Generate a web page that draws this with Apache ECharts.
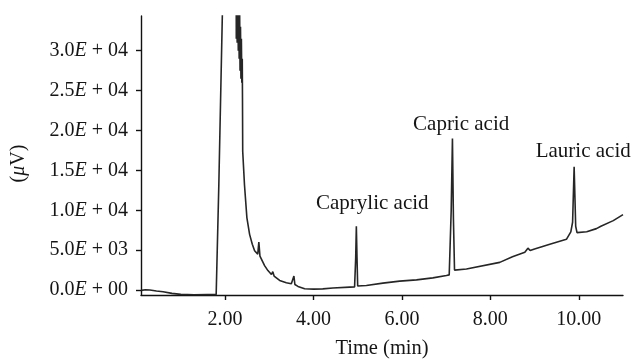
<!DOCTYPE html>
<html><head><meta charset="utf-8">
<script src="https://cdn.jsdelivr.net/npm/echarts@6/dist/echarts.min.js"></script>
<style>html,body{margin:0;padding:0;background:#fff}#c{width:632px;height:364px}</style>
</head><body><div id="c"></div>
<script>
// Retention time (min)
const timeMin = [0.11,0.20,0.30,0.45,0.60,0.80,1.00,1.30,1.60,1.80,1.82,1.86,1.94,1.96,2.24,
  2.255,2.265,2.275,2.29,2.30,2.31,2.32,2.33,2.34,2.35,2.36,2.37,2.38,2.39,2.395,2.40,2.44,2.495,2.556,2.617,2.669,
  2.74,2.765,2.79,2.82,2.895,2.97,3.05,3.08,3.11,3.235,3.386,3.50,3.535,3.558,3.58,3.65,3.80,4.00,4.21,4.44,4.82,
  4.93,4.955,4.97,4.985,5.00,5.045,5.197,5.57,5.95,6.33,6.70,7.007,7.07,7.115,7.143,7.165,7.19,7.46,8.213,8.50,
  8.78,8.85,8.90,9.00,9.345,9.72,9.82,9.86,9.895,9.93,9.96,10.0,10.18,10.4,10.5,10.78,11.0];
// Detector signal (µV)
const signal = [-40,40,0,-120,-220,-420,-540,-580,-560,-570,-520,13200,34600,80000,80000,
  31500,36000,31000,36000,30000,36000,29000,35500,27500,33000,26500,31500,26000,29000,24000,17400,13200,9050,6980,5740,4920,
  4500,6000,4250,4090,3060,2440,1950,2300,1750,1200,905,780,720,1750,700,460,160,120,150,250,370,
  400,4000,8000,4000,500,460,580,870,1120,1280,1530,1820,1900,10000,19000,9000,2500,2640,3470,4180,
  4750,5250,4950,5150,5740,6360,7300,8500,15460,8000,7200,7100,7300,7700,8000,8700,9450];
const xTicks = [2, 4, 6, 8, 10];
const yTicks = [0, 5000, 10000, 15000, 20000, 25000, 30000];
const peakNames = ['Caprylic acid', 'Capric acid', 'Lauric acid'];
const peakLabelTime = [5.33, 7.34, 10.10];
const peakLabelValue = [10900, 20700, 17360];

const FONT = '"Liberation Serif", "Times New Roman", serif';
const TXT = '#151515';

function sci(v) {
  let exp = 0, mant = 0;
  if (v !== 0) { exp = Math.floor(Math.log10(Math.abs(v))); mant = v / Math.pow(10, exp); }
  const e = (exp < 10 ? '0' : '') + exp;
  return '{n|' + mant.toFixed(1) + '}{e|E}{n| + ' + e + '}';
}

const chart = echarts.init(document.getElementById('c'), null, {renderer: 'canvas'});
chart.setOption({
  animation: false,
  backgroundColor: '#fff',
  grid: {left: 141, right: 9, top: 16, bottom: 66, containLabel: false},
  xAxis: {
    type: 'value', min: 0.1, max: 11.0,
    name: 'Time (min)', nameLocation: 'middle', nameGap: 43,
    nameTextStyle: {fontFamily: FONT, fontSize: 20.5, color: TXT},
    axisLine: {show: true, onZero: false, lineStyle: {color: '#111', width: 1.4}},
    axisTick: {show: true, customValues: xTicks, length: 5, lineStyle: {color: '#111', width: 1.4}},
    axisLabel: {customValues: xTicks, formatter: v => v.toFixed(2), margin: 15,
      fontFamily: FONT, fontSize: 20, color: TXT},
    splitLine: {show: false}
  },
  yAxis: {
    type: 'value', min: -620, max: 34350,
    name: '{p|(}{m|μ}{p|V)}', nameLocation: 'middle', nameGap: 112, nameRotate: 90,
    nameTextStyle: {padding: [0, 16, 0, 0], rich: {
      p: {fontFamily: FONT, fontSize: 20, color: TXT},
      m: {fontFamily: FONT, fontSize: 20, fontStyle: 'italic', color: TXT}}},
    axisLine: {show: true, onZero: false, lineStyle: {color: '#111', width: 1.4}},
    axisTick: {show: true, customValues: yTicks, length: 5, lineStyle: {color: '#111', width: 1.4}},
    axisLabel: {customValues: yTicks, formatter: sci, margin: 13,
      rich: {
        n: {fontFamily: FONT, fontSize: 20, color: TXT},
        e: {fontFamily: FONT, fontSize: 20, fontStyle: 'italic', color: TXT}
      }},
    splitLine: {show: false}
  },
  series: [{
    type: 'line',
    data: timeMin.map((t, i) => [t, signal[i]]),
    showSymbol: false, symbol: 'none', clip: true,
    lineStyle: {color: '#262626', width: 1.6},
    z: 3
  }, {
    type: 'scatter', silent: true,
    data: peakNames.map((n, i) => [peakLabelTime[i], peakLabelValue[i], n]),
    symbolSize: 1, itemStyle: {color: 'rgba(0,0,0,0)', opacity: 1},
    label: {show: true, position: 'inside', formatter: p => p.data[2], opacity: 1,
      fontFamily: FONT, fontSize: 21, color: TXT}
  }]
});
</script>
</body></html>
